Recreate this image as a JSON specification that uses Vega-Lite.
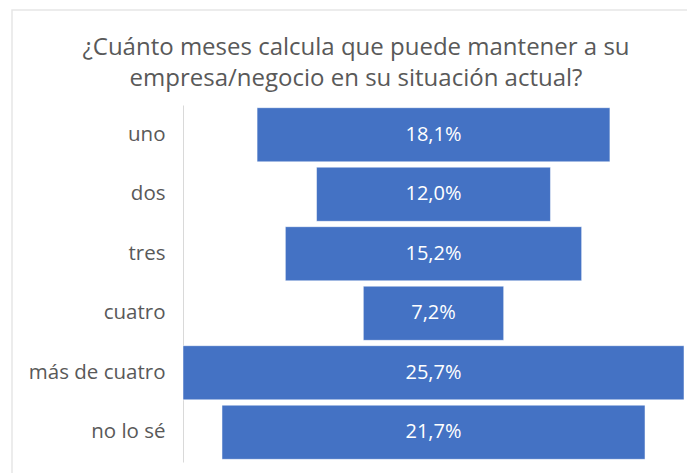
{
  "$schema": "https://vega.github.io/schema/vega-lite/v6.json",
  "width": 678,
  "height": 466,
  "autosize": "none",
  "padding": {"left": 12, "top": 10, "right": 0, "bottom": 0},
  "background": "white",
  "title": {
    "text": ["¿Cuánto meses calcula que puede mantener a su", "empresa/negocio en su situación actual?"],
    "anchor": "middle",
    "frame": "group",
    "dx": 5,
    "offset": -81,
    "font": "Open Sans",
    "fontSize": 24,
    "fontWeight": "normal",
    "color": "#595959",
    "lineHeight": 31
  },
  "data": {
    "values": [
      {"categoria": "uno", "valor": 0.181},
      {"categoria": "dos", "valor": 0.120},
      {"categoria": "tres", "valor": 0.152},
      {"categoria": "cuatro", "valor": 0.072},
      {"categoria": "más de cuatro", "valor": 0.257},
      {"categoria": "no lo sé", "valor": 0.217}
    ]
  },
  "encoding": {
    "y": {
      "field": "categoria",
      "type": "nominal",
      "sort": null,
      "title": null,
      "scale": {"paddingInner": 0.09, "paddingOuter": 0.045, "range": [95, 452]},
      "axis": {
        "ticks": false,
        "offset": -171,
        "domainColor": "#d9d9d9",
        "labelFont": "Open Sans",
        "labelFontSize": 20.5,
        "labelColor": "#595959",
        "labelPadding": 18
      }
    }
  },
  "layer": [
    {
      "mark": {"type": "bar", "color": "#4472C4", "stroke": "white", "strokeWidth": 0.5},
      "encoding": {
        "x": {
          "field": "valor",
          "type": "quantitative",
          "stack": "center",
          "axis": null,
          "scale": {"nice": false, "zero": false, "range": [171, 672]}
        }
      }
    },
    {
      "mark": {"type": "text", "color": "white", "font": "Open Sans", "fontSize": 20, "align": "center", "baseline": "middle"},
      "encoding": {
        "x": {"field": "valor", "type": "quantitative", "stack": "center", "bandPosition": 0.5},
        "text": {"field": "valor", "type": "quantitative", "format": ".1%"}
      }
    }
  ],
  "config": {
    "view": {"stroke": "#e6e6e6", "strokeWidth": 1.5},
    "locale": {
      "number": {"decimal": ",", "thousands": ".", "grouping": [3], "currency": ["", " €"]}
    }
  }
}
